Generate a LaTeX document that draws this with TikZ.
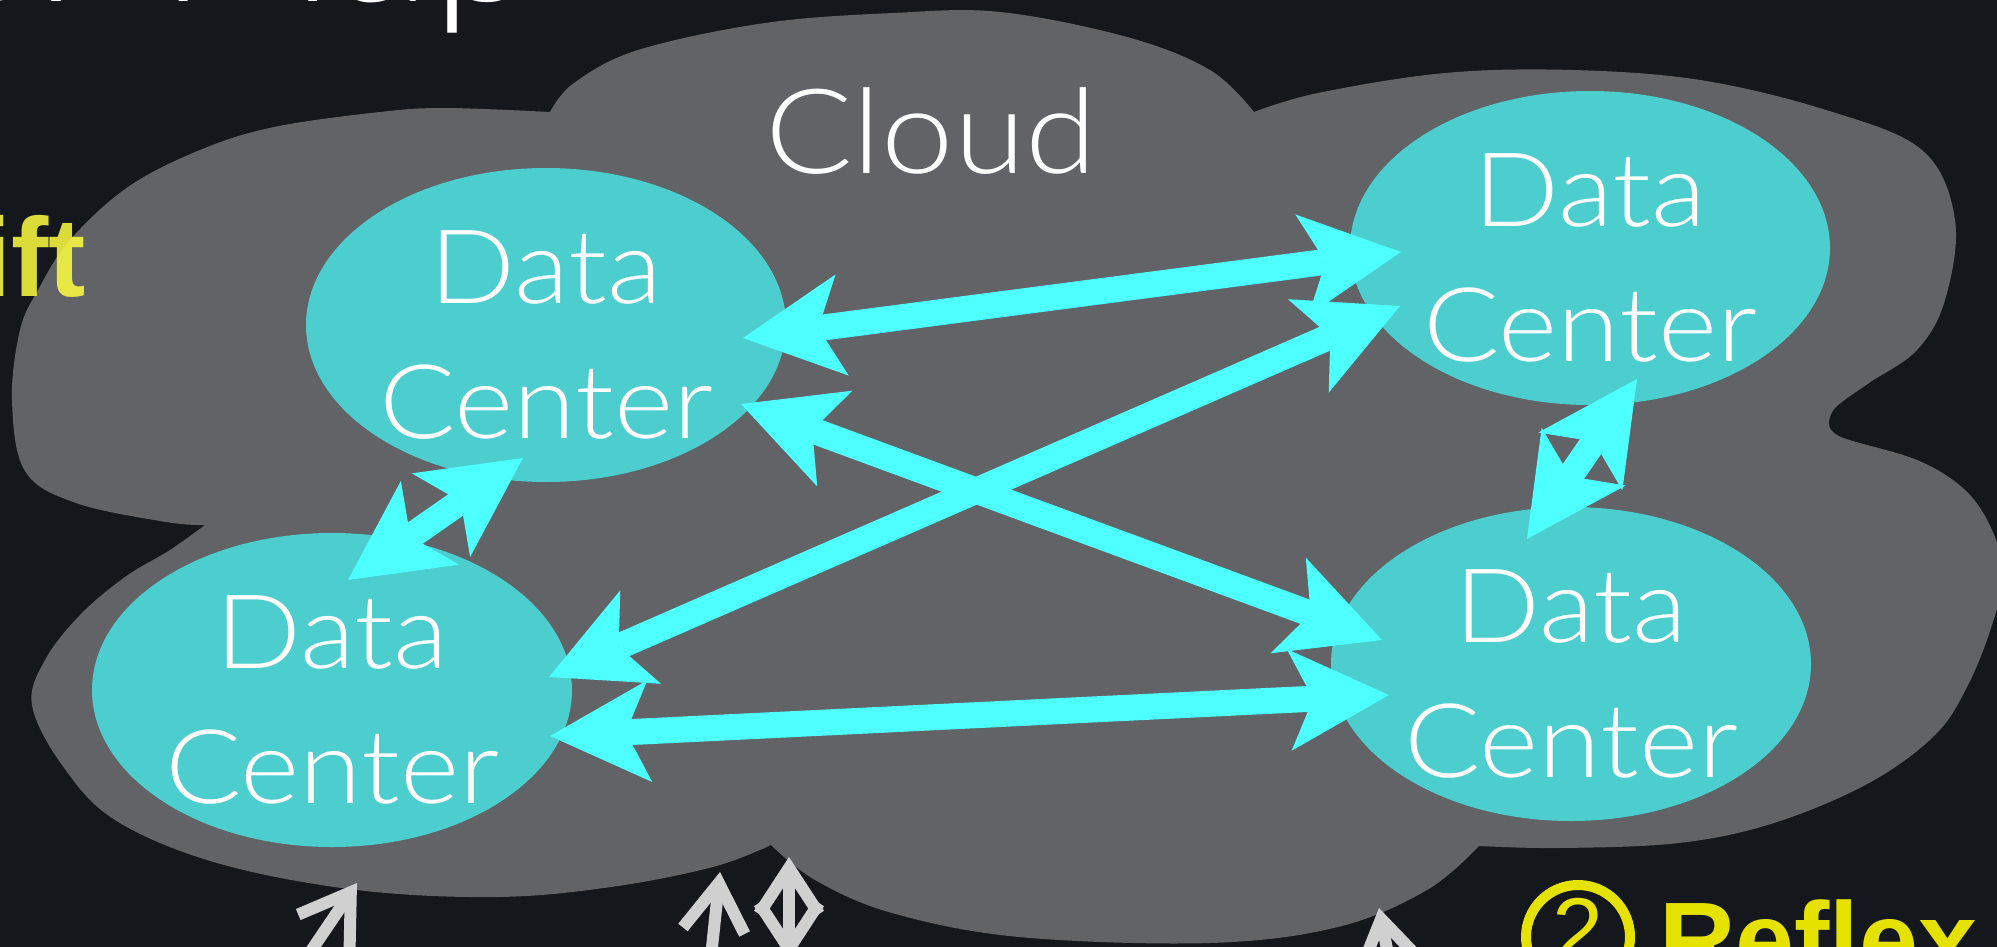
\documentclass[tikz,border=0pt]{standalone}
\usepackage{fontspec}
\setmainfont{Liberation Sans}
\newfontfamily\lightfont{Lato Light}[FakeStretch=1.1]
\usetikzlibrary{arrows.meta,calc,shapes.geometric}
\definecolor{bgc}{HTML}{14171B}
\definecolor{cloudc}{HTML}{616366}
\definecolor{dcc}{HTML}{4CCDCE}
\definecolor{arrc}{HTML}{4DFFFF}
\definecolor{yel}{HTML}{FFFF40}
\definecolor{yel2}{HTML}{E6E200}
\definecolor{grayarr}{HTML}{D0D0D0}
\tikzset{
  dc/.style={ellipse, fill=dcc, minimum width=480pt, minimum height=314pt, inner sep=0pt, outer sep=0pt},
  dctext/.style={text=white, font=\lightfont\fontsize{103}{110}\selectfont, inner sep=0pt, anchor=base},
  link/.style={arrc, line width=26pt, <->, >={Stealth[length=100pt,width=102pt,inset=24pt,line width=0pt]}},
  garr/.style={grayarr, line width=12pt, ->, >={Straight Barb[length=48pt,width=62pt]}},
  garrd/.style={grayarr, line width=12pt, <->, >={Straight Barb[length=46pt,width=60pt]}},
}
\begin{document}
\begin{tikzpicture}[x=1pt,y=-1pt]
\useasboundingbox (0,0) rectangle (1997,947);
\clip (0,0) rectangle (1997,947);
\fill[bgc] (0,0) rectangle (1997,947);
% title (cut off at top)
\node[anchor=base east, inner sep=0pt, text=white, font=\lightfont\fontsize{180}{180}\selectfont] (ttl) at (540,2) {Cluster Map};
% cloud
\fill[cloudc]
  plot[smooth,tension=0.6] coordinates {(205,525) (166,522) (76,503) (25,471) (12,400) (20,330) (38,290) (70,240) (128,187) (200,150) (274,127) (380,112) (446,108) (550,112)}
  -- plot[smooth,tension=0.6] coordinates {(550,112) (574,83) (638,50) (765,23) (893,13) (1000,12) (1127,37) (1210,70) (1254,112)}
  -- plot[smooth,tension=0.6] coordinates {(1254,112) (1318,93) (1445,73) (1572,70) (1700,80) (1826,110) (1922,150) (1955,220) (1945,300) (1917,350) (1869,383) (1836,407) (1829,422)}
  -- plot[smooth,tension=0.6] coordinates {(1829,422) (1841,437) (1917,460) (1965,490) (1992,530) (2003,575) (1992,625) (1968,685) (1935,735) (1869,783) (1774,823) (1679,843) (1560,848) (1479,846)}
  -- plot[smooth,tension=0.6] coordinates {(1479,846) (1427,890) (1338,927) (1210,943) (1019,937) (892,913) (815,880) (771,845)}
  -- plot[smooth,tension=0.6] coordinates {(771,845) (713,867) (611,887) (497,897) (357,890) (217,863) (115,820) (62,765) (32,705) (45,660) (80,615) (125,577) (170,550) (205,525)}
  -- cycle;
\node[anchor=base, inner sep=0pt, text=white, font=\lightfont\fontsize{118}{118}\selectfont] (cl) at (931,174) {Cloud};
% data centers
\node[dc] (A) at (546,325) {};
\node[dc] (B) at (1590,248) {};
\node[dc] (C) at (332,690) {};
\node[dc] (D) at (1571,664) {};
\node[dctext] (A1) at ($(A)+(0,-22)$) {Data};
\node[dctext] (A2) at ($(A)+(0,113)$) {Center};
\node[dctext] (B1) at ($(B)+(0,-22)$) {Data};
\node[dctext] (B2) at ($(B)+(0,113)$) {Center};
\node[dctext] (C1) at ($(C)+(0,-22)$) {Data};
\node[dctext] (C2) at ($(C)+(0,113)$) {Center};
\node[dctext] (D1) at ($(D)+(0,-22)$) {Data};
\node[dctext] (D2) at ($(D)+(0,113)$) {Center};
% links
\draw[link] ($(A)+(197,13)$) -- ($(B)+(-189,4)$);
\draw[link] ($(A)+(195,79)$) -- ($(D)+(-189,-24)$);
\draw[link] ($(C)+(217,-13)$) -- ($(B)+(-190,58)$);
\draw[link] ($(C)+(218,46)$) -- ($(D)+(-182,31)$);
\draw[link] ($(A)+(-23,133)$) -- ($(C)+(16,-110)$);
\draw[link] ($(B)+(47,131)$) -- ($(D)+(-44,-125)$);
% gray arrows at the bottom
\coordinate (g1s) at (288,985); \coordinate (g1e) at (357,883);
\coordinate (g2s) at (708,985); \coordinate (g2e) at (720,872);
\coordinate (g3s) at (789,960); \coordinate (g3e) at (789,857);
\coordinate (g4s) at (1392,975); \coordinate (g4e) at (1379,908);
\draw[garr] (g1s) -- (g1e);
\draw[garr] (g2s) -- (g2e);
\draw[garrd] (g3s) -- (g3e);
\draw[garr] (g4s) -- (g4e);
% yellow texts
\node[anchor=base east, inner sep=0pt, text=yel, opacity=0.85, font=\bfseries\fontsize{112}{112}\selectfont] (sw) at (86,296) {Swift};
\node[circle, draw=yel2, line width=10pt, minimum size=104pt, inner sep=0pt] (c2) at (1578,937) {};
\node[text=yel2, inner sep=0pt, font=\fontsize{92}{92}\selectfont] (d2) at (1578,930) {2};
\node[anchor=base west, inner sep=0pt, text=yel2, font=\bfseries\fontsize{106}{106}\selectfont] (rf) at (1659,976) {Reflex};
\end{tikzpicture}
\end{document}
